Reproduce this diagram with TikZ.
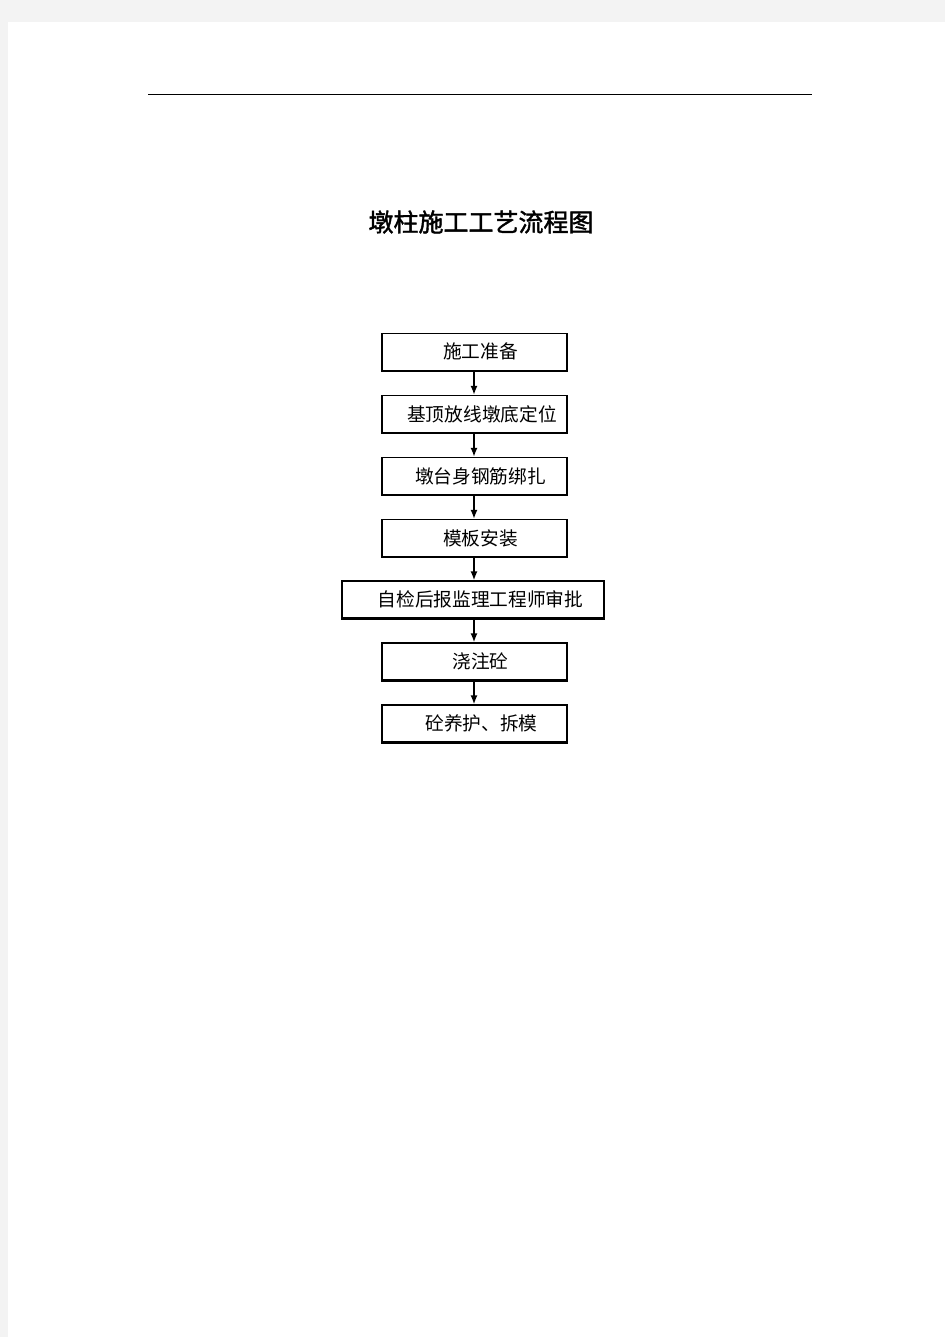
\documentclass[tikz,border=0pt]{standalone}
\usepackage{fontspec}
\newfontfamily\cjk{Noto Sans CJK SC}
\newfontfamily\cjktitle[FakeBold=1.6]{Noto Sans CJK SC}
\usetikzlibrary{arrows.meta}
\definecolor{pagegray}{HTML}{F3F3F3}
\tikzset{
  stepbox/.style={draw=black, line width=1.1pt, minimum height=37pt, inner sep=0pt,
    font=\cjk\fontsize{18.7}{20}\selectfont},
  narrow/.style={stepbox, minimum width=185pt},
  wide/.style={stepbox, minimum width=262pt},
  flowarrow/.style={draw=black, line width=2.2pt, -{Latex[length=9pt,width=7pt]}}}
\begin{document}
\begin{tikzpicture}[x=1pt,y=-1pt]
\useasboundingbox (0,0) rectangle (945,1337);
\fill[pagegray] (0,0) rectangle (945,1337);
\fill[white] (8,22) rectangle (945,1337);
\coordinate (hl) at (148,95);
\coordinate (hr) at (812,95);
\draw[line width=1pt] (hl) -- (hr);
\node[font=\cjktitle\fontsize{25}{28}\selectfont] (title) at (481,222) {墩柱施工工艺流程图};
\node[narrow] (b1) at (474.5,351.6) {\hspace{12pt}施工准备};
\node[narrow] (b2) at (474.5,414) {\hspace{15pt}基顶放线墩底定位};
\node[narrow] (b3) at (474.5,476) {\hspace{12pt}墩台身钢筋绑扎};
\node[narrow] (b4) at (474.5,538) {\hspace{12pt}模板安装};
\node[wide]   (b5) at (473,599.5) {\hspace{15pt}自检后报监理工程师审批};
\node[narrow] (b6) at (474.5,661.5) {\hspace{12pt}浇注砼};
\node[narrow] (b7) at (474.5,723.5) {\hspace{14pt}砼养护、拆模};
\foreach \b in {b1,b2,b3,b4,b5,b6,b7}
  \draw[line width=1.2pt] ([yshift=-0.8pt]\b.south west) -- ([yshift=-0.8pt]\b.south east);
\draw[flowarrow] ([xshift=-0.5pt]b1.south) -- ([xshift=-0.5pt]b2.north);
\draw[flowarrow] ([xshift=-0.5pt]b2.south) -- ([xshift=-0.5pt]b3.north);
\draw[flowarrow] ([xshift=-0.5pt]b3.south) -- ([xshift=-0.5pt]b4.north);
\draw[flowarrow] ([xshift=-0.5pt]b4.south) -- ([xshift=-0.5pt]b4.south |- b5.north);
\draw[flowarrow] ([xshift=-0.5pt]b5.south -| b6.north) -- ([xshift=-0.5pt]b6.north);
\draw[flowarrow] ([xshift=-0.5pt]b6.south) -- ([xshift=-0.5pt]b7.north);
\end{tikzpicture}
\end{document}
